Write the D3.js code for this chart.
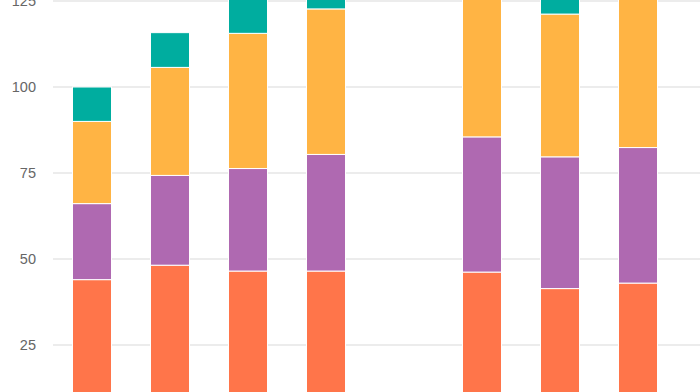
<!DOCTYPE html>
<html>
<head>
<meta charset="utf-8">
<script src="https://cdn.jsdelivr.net/npm/d3@7"></script>
<style>
  html, body { margin: 0; padding: 0; background: #fff; overflow: hidden; }
  svg { display: block; }
  .tick-label { font-family: "Liberation Sans", Arial, sans-serif; font-size: 14.5px; fill: #666; }
</style>
</head>
<body>
<div id="chart"></div>
<script>
var width = 700,
    height = 392;

// categories (x labels sit below the visible area)
var categories = ["c1", "c2", "c3", "c4", "c5", "c6", "c7", "c8"];

// stacked series, bottom to top (null = no bar)
var seriesNames = ["s1", "s2", "s3", "s4"];
var s1 = [44.0, 48.2, 46.5, 46.5, null, 46.2, 41.4, 43.0];
var s2 = [22.1, 26.1, 29.8, 33.9, null, 39.3, 38.3, 39.4];
var s3 = [23.9, 31.4, 39.3, 42.3, null, 45.0, 41.5, 45.0];
var s4 = [10.0, 10.1, 10.0, 9.0, null, 10.0, 10.0, 10.0];

// visible y ticks
var yTicks = [25, 50, 75, 100, 125];
var colors = ["#FF754A", "#AF69B1", "#FFB444", "#00AD9F"];

// build rows for d3.stack
var rows = categories.map(function(c, i) {
  return { cat: c, s1: s1[i], s2: s2[i], s3: s3[i], s4: s4[i], empty: s1[i] == null };
});

var x = d3.scaleBand()
  .domain(categories)
  .range([53, 677])
  .paddingInner(0.5)
  .paddingOuter(0.25);

var y = d3.scaleLinear()
  .domain([0, 125])
  .range([431, 1]);

var svg = d3.select("#chart").append("svg")
  .attr("width", width)
  .attr("height", height);

// gridlines
svg.append("g").selectAll("line")
  .data(yTicks)
  .enter().append("line")
  .attr("x1", 53)
  .attr("x2", width)
  .attr("y1", function(d) { return y(d); })
  .attr("y2", function(d) { return y(d); })
  .attr("stroke", "#e6e6e6")
  .attr("stroke-width", 1.5);

// y tick labels
svg.append("g").selectAll("text")
  .data(yTicks)
  .enter().append("text")
  .attr("class", "tick-label")
  .attr("x", 36)
  .attr("y", function(d) { return y(d); })
  .attr("dy", "0.36em")
  .attr("text-anchor", "end")
  .text(function(d) { return d; });

var stack = d3.stack()
  .keys(seriesNames)
  .value(function(d, key) { return d[key] || 0; });

var layers = stack(rows);

svg.append("g").selectAll("g")
  .data(layers)
  .enter().append("g")
  .attr("fill", function(d, i) { return colors[i]; })
  .selectAll("rect")
  .data(function(d) { return d.filter(function(p) { return !p.data.empty; }); })
  .enter().append("rect")
  .attr("x", function(d) { return x(d.data.cat); })
  .attr("width", x.bandwidth())
  .attr("y", function(d) { return y(d[1]); })
  .attr("height", function(d) { return y(d[0]) - y(d[1]); })
  .attr("stroke", "#fff")
  .attr("stroke-width", 1);
</script>
</body>
</html>
